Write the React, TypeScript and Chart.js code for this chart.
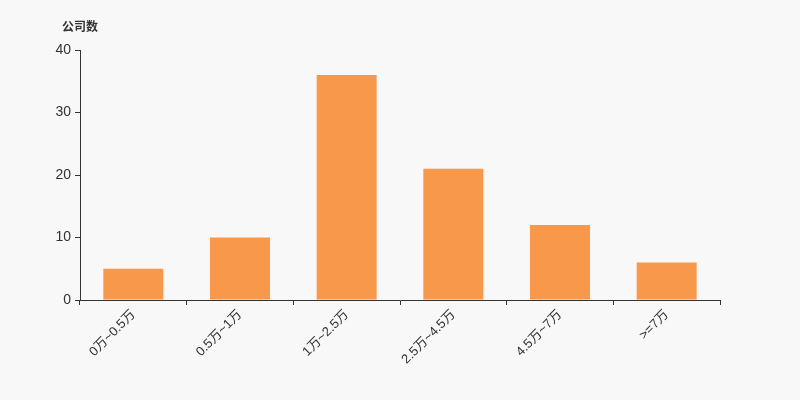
import React, { useEffect, useRef } from "react";
import { Chart, registerables } from "chart.js";

Chart.register(...registerables);

const categories = ["0万~0.5万", "0.5万~1万", "1万~2.5万", "2.5万~4.5万", "4.5万~7万", ">=7万"];
const companyCounts = [5, 10, 36, 21, 12, 6];
const yTicks = [0, 10, 20, 30, 40];
const axisTitle = "公司数";

const FONT = "'Liberation Sans', 'Noto Sans CJK SC', sans-serif";
const BG = "#f8f8f8";

export default function App() {
  const ref = useRef<HTMLCanvasElement | null>(null);
  useEffect(() => {
    document.body.style.margin = "0";
    document.body.style.background = BG;
    const bgPlugin = {
      id: "bg",
      beforeDraw(chart: any) {
        const { ctx, width, height } = chart;
        ctx.save();
        ctx.fillStyle = BG;
        ctx.fillRect(0, 0, width, height);
        ctx.restore();
      },
      afterDraw(chart: any) {
        const { ctx, chartArea } = chart;
        ctx.save();
        ctx.fillStyle = "#333";
        ctx.font = `bold 12px ${FONT}`;
        ctx.textAlign = "left";
        ctx.textBaseline = "middle";
        ctx.fillText(axisTitle, chartArea.left - 18, chartArea.top - 22);
        ctx.restore();
      },
    };
    const chart = new Chart(ref.current!, {
      type: "bar",
      data: {
        labels: categories,
        datasets: [
          {
            data: companyCounts,
            backgroundColor: "#f7984a",
            categoryPercentage: 1,
            barPercentage: 0.5625,
          },
        ],
      },
      options: {
        animation: false,
        responsive: false,
        maintainAspectRatio: false,
        layout: { padding: { left: 0, right: 80, top: 50, bottom: 0 } },
        plugins: { legend: { display: false }, tooltip: { enabled: false }, title: { display: false } },
        scales: {
          x: {
            afterFit: (s: any) => {
              s.height = 100;
            },
            border: { display: true, color: "#333", width: 1 },
            grid: {
              display: true,
              drawOnChartArea: false,
              drawTicks: true,
              tickLength: 5,
              color: "#333",
              offset: true,
            },
            ticks: {
              color: "#333",
              font: { family: FONT, size: 13 },
              minRotation: 45,
              maxRotation: 45,
              autoSkip: false,
              padding: 2,
            },
          },
          y: {
            min: 0,
            max: 40,
            afterFit: (s: any) => {
              s.width = 80;
            },
            afterBuildTicks: (s: any) => {
              s.ticks = yTicks.map((v) => ({ value: v }));
            },
            border: { display: true, color: "#333", width: 1 },
            grid: {
              display: true,
              drawOnChartArea: false,
              drawTicks: true,
              tickLength: 5,
              color: "#333",
            },
            ticks: {
              color: "#333",
              font: { family: FONT, size: 14 },
              padding: 4,
            },
          },
        },
      },
      plugins: [bgPlugin],
    });
    return () => chart.destroy();
  }, []);
  return (
    <div style={{ position: "absolute", left: 0, top: 0, width: 800, height: 400 }}>
      <canvas ref={ref} width={800} height={400} style={{ width: 800, height: 400 }} />
    </div>
  );
}
